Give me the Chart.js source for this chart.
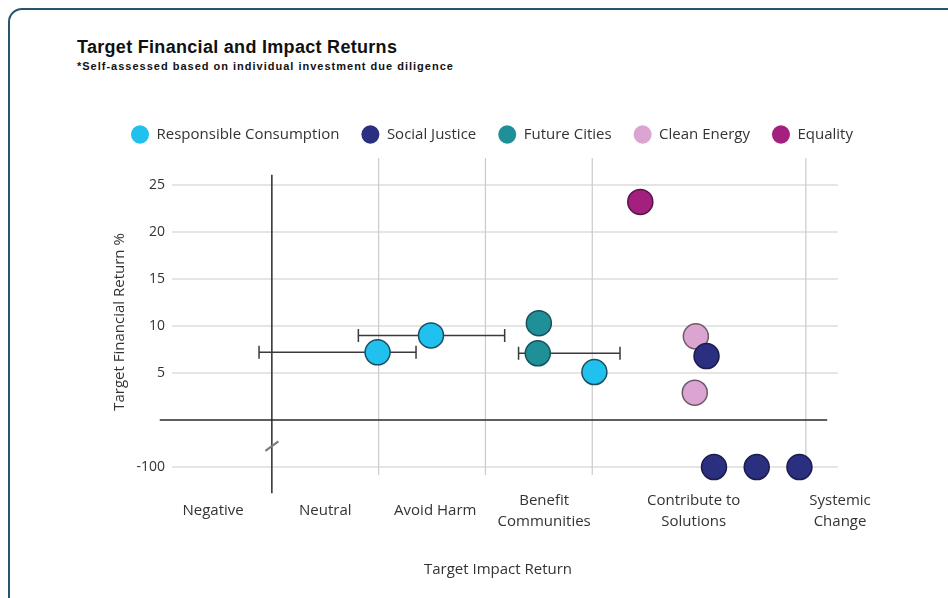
<!DOCTYPE html>
<html>
<head>
<meta charset="utf-8">
<script src="https://cdn.jsdelivr.net/npm/chart.js@4.4.1/dist/chart.umd.min.js"></script>
<style>
  html, body { margin: 0; padding: 0; background: #fff; overflow: hidden; }
  body { width: 948px; height: 598px; position: relative; }
  .frame { position: absolute; left: 8px; top: 8px; width: 1000px; height: 1000px; border: 2px solid #285470; border-radius: 14px; box-sizing: border-box; }
  .title { position: absolute; left: 77px; top: 38px; font: bold 18px/18px "Liberation Sans", Arial, sans-serif; letter-spacing: 0.3px; color: #111; white-space: nowrap; }
  .subtitle { position: absolute; left: 77px; top: 60px; font: bold 11px/12px "Liberation Sans", Arial, sans-serif; letter-spacing: 1px; color: #111; white-space: nowrap; }
  canvas { position: absolute; left: 0; top: 0; }
</style>
</head>
<body>
<div class="frame"></div>
<div class="title">Target Financial and Impact Returns</div>
<div class="subtitle">*Self-assessed based on individual investment due diligence</div>
<canvas id="chart" width="948" height="598"></canvas>
<script>
const themes = ['Responsible Consumption', 'Social Justice', 'Future Cities', 'Clean Energy', 'Equality'];
const themeColors = ['#20c1ee', '#2b2f7f', '#1f8f98', '#dca4d0', '#a3207f'];
const themeBorders = ['#1b4e5f', '#1a1c4b', '#17525a', '#6e5b6a', '#5a1247'];

// impact position: 1 = Negative/Neutral boundary, one unit per step
const impactX = [
  [1.99, 2.49, 4.02],
  [5.07, 5.14, 5.54, 5.94],
  [3.50, 3.49],
  [4.97, 4.96],
  [4.45]
];
const financialY = [
  [7.2, 9.0, 5.1],
  [6.8, -100, -100, -100],
  [10.3, 7.1],
  [8.9, 2.9],
  [23.2]
];
const impactLow = [
  [0.88, 1.81, null],
  [null, null, null, null],
  [null, 3.31],
  [null, null],
  [null]
];
const impactHigh = [
  [2.35, 3.18, null],
  [null, null, null, null],
  [null, 4.26],
  [null, null],
  [null]
];

const impactLabels = [['Negative'], ['Neutral'], ['Avoid Harm'], ['Benefit', 'Communities'], ['Contribute to', 'Solutions'], ['Systemic', 'Change']];
const impactLabelPos = [0.45, 1.5, 2.53, 3.55, 4.95, 6.32];
const impactGrid = [2, 3, 4, 6];
const returnTicks = [25, 20, 15, 10, 5, -100];

const FONT = 'Open Sans';
const TEXT = '#333';

// y axis is broken between 0 and -100: -100 sits one step below zero
const BREAK_BELOW = -50, BREAK_SHIFT = 95;
class BrokenLinearScale extends Chart.LinearScale {
  getPixelForValue(value) {
    return super.getPixelForValue(value < BREAK_BELOW ? value + BREAK_SHIFT : value);
  }
}
BrokenLinearScale.id = 'brokenLinear';
BrokenLinearScale.defaults = Chart.LinearScale.defaults;
Chart.register(BrokenLinearScale);

const legendGap = {
  id: 'legendGap',
  beforeInit(chart) {
    const fit = chart.legend.fit;
    chart.legend.fit = function () { fit.call(this); this.height = 53; };
  }
};

const gridAndBars = {
  id: 'gridAndBars',
  beforeDatasetsDraw(chart) {
    const { ctx, chartArea, scales: { x, y } } = chart;
    ctx.save();
    ctx.strokeStyle = '#cbcbcb';
    ctx.lineWidth = 1.2;
    ctx.beginPath();
    returnTicks.forEach(v => {
      const py = y.getPixelForValue(v);
      ctx.moveTo(chartArea.left, py);
      ctx.lineTo(x.getPixelForValue(6.3), py);
    });
    impactGrid.forEach(v => {
      const px = x.getPixelForValue(v);
      ctx.moveTo(px, chartArea.top);
      ctx.lineTo(px, y.getPixelForValue(-5.85));
    });
    ctx.stroke();

    // axes
    ctx.strokeStyle = '#2b2b2b';
    ctx.lineWidth = 1.5;
    ctx.beginPath();
    ctx.moveTo(x.getPixelForValue(-0.05), y.getPixelForValue(0));
    ctx.lineTo(x.getPixelForValue(6.2), y.getPixelForValue(0));
    ctx.moveTo(x.getPixelForValue(1), y.getPixelForValue(26.1));
    ctx.lineTo(x.getPixelForValue(1), y.getPixelForValue(-7.8));
    ctx.stroke();

    // break mark
    const bx = x.getPixelForValue(1), by = y.getPixelForValue(-2.75);
    ctx.strokeStyle = '#7a7a7a';
    ctx.lineWidth = 2;
    ctx.beginPath();
    ctx.moveTo(bx - 6.5, by + 5);
    ctx.lineTo(bx + 6.5, by - 4.5);
    ctx.stroke();

    // horizontal error bars
    ctx.strokeStyle = '#3a3a3a';
    ctx.lineWidth = 1.5;
    ctx.beginPath();
    impactLow.forEach((lows, i) => {
      lows.forEach((lo, j) => {
        if (lo == null) return;
        const py = y.getPixelForValue(financialY[i][j]);
        const x0 = x.getPixelForValue(lo), x1 = x.getPixelForValue(impactHigh[i][j]);
        ctx.moveTo(x0, py); ctx.lineTo(x1, py);
        ctx.moveTo(x0, py - 6.5); ctx.lineTo(x0, py + 6.5);
        ctx.moveTo(x1, py - 6.5); ctx.lineTo(x1, py + 6.5);
      });
    });
    ctx.stroke();
    ctx.restore();
  }
};

new Chart(document.getElementById('chart'), {
  type: 'scatter',
  data: {
    datasets: themes.map((name, i) => ({
      label: name,
      data: impactX[i].map((v, j) => ({ x: v, y: financialY[i][j] })),
      backgroundColor: themeColors[i],
      borderColor: themeBorders[i],
      borderWidth: 1.5,
      pointRadius: 12.5,
      clip: false
    }))
  },
  options: {
    responsive: false,
    animation: false,
    events: [],
    layout: { padding: { left: 109, right: 30, top: 105, bottom: 0 } },
    plugins: {
      legend: {
        align: 'start',
        labels: {
          usePointStyle: true,
          pointStyle: 'circle',
          boxHeight: 13,
          pointStyleWidth: 18,
          padding: 22,
          color: TEXT,
          font: { family: FONT, size: 15 },
          generateLabels: chart => Chart.defaults.plugins.legend.labels.generateLabels(chart)
            .map(l => ({ ...l, lineWidth: 0, strokeStyle: 'rgba(0,0,0,0)' }))
        }
      },
      tooltip: { enabled: false }
    },
    scales: {
      x: {
        type: 'linear',
        min: 0.065,
        max: 6.17,
        grid: { display: false, drawTicks: false },
        border: { display: false },
        afterBuildTicks: axis => { axis.ticks = impactLabelPos.map(v => ({ value: v })); },
        afterFit: axis => { axis.height = 112; },
        ticks: {
          autoSkip: false,
          maxRotation: 0,
          padding: 14.5,
          crossAlign: 'center',
          color: TEXT,
          font: { family: FONT, size: 15, lineHeight: 1.4 },
          callback: (v, i) => impactLabels[i]
        },
        title: {
          display: true,
          text: 'Target Impact Return',
          color: TEXT,
          font: { family: FONT, size: 15 },
          padding: { top: 0, bottom: 19 }
        }
      },
      y: {
        type: 'brokenLinear',
        min: -7.02,
        max: 27.87,
        grid: { display: false, drawTicks: false },
        border: { display: false },
        afterBuildTicks: axis => { axis.ticks = returnTicks.map(v => ({ value: v })); },
        afterFit: axis => { axis.width = 63; },
        ticks: {
          padding: 7,
          color: TEXT,
          font: { family: FONT, size: 14 },
          callback: v => String(v)
        },
        title: {
          display: true,
          text: 'Target Financial Return %',
          color: TEXT,
          font: { family: FONT, size: 15 },
          padding: { top: 2, bottom: 0 }
        }
      },
      // empty right-hand spacer so the plot keeps its width while the legend spans wider
      spacer: {
        type: 'linear',
        position: 'right',
        grid: { display: false, drawTicks: false },
        border: { display: false },
        ticks: { display: false },
        afterFit: axis => { axis.width = 94; }
      }
    }
  },
  plugins: [legendGap, gridAndBars]
});
</script>
</body>
</html>
